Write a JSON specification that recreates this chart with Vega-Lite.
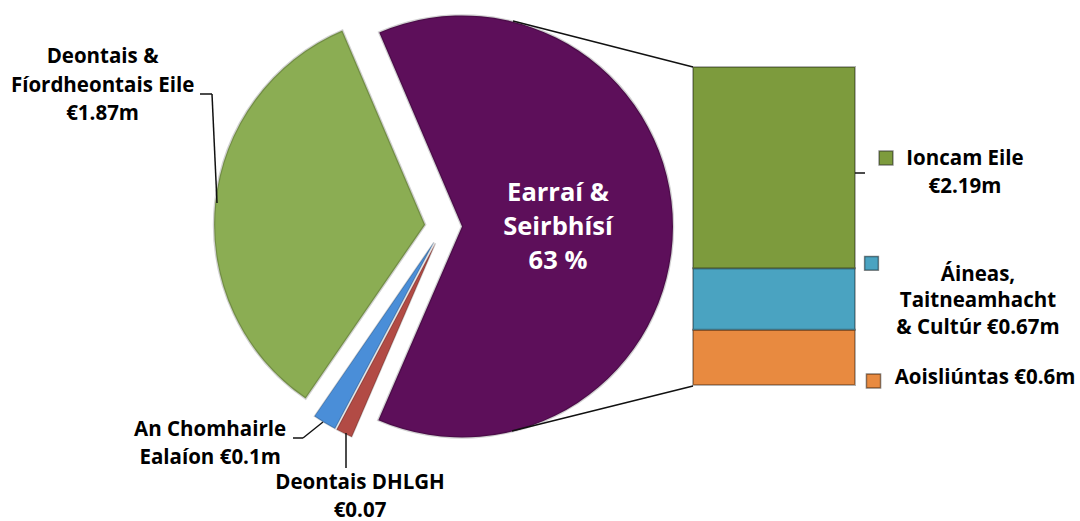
{
  "$schema": "https://vega.github.io/schema/vega-lite/v6.json",
  "width": 887,
  "height": 453,
  "padding": 0,
  "background": "white",
  "config": {
    "view": {"stroke": null},
    "text": {"font": "Open Sans", "fontWeight": "bold", "fontSize": 20.5, "lineHeight": 27.5, "lineBreak": "\n", "align": "center", "baseline": "middle", "color": "#000000"}
  },
  "datasets": {
    "pie": [
      {"name": "Earraí & Seirbhísí", "value": 3.46, "label": "Earraí &\nSeirbhísí\n63 %"},
      {"name": "Deontais DHLGH", "value": 0.07, "label": "Deontais DHLGH\n€0.07"},
      {"name": "An Chomhairle Ealaíon", "value": 0.1, "label": "An Chomhairle\nEalaíon €0.1m"},
      {"name": "Deontais & Fíordheontais Eile", "value": 1.87, "label": "Deontais &\nFíordheontais Eile\n€1.87m"}
    ],
    "bar": [
      {"group": "Earraí & Seirbhísí", "name": "Aoisliúntas", "value": 0.6, "label": "Aoisliúntas €0.6m"},
      {"group": "Earraí & Seirbhísí", "name": "Áineas, Taitneamhacht & Cultúr", "value": 0.67, "label": "Áineas,\nTaitneamhacht\n& Cultúr €0.67m"},
      {"group": "Earraí & Seirbhísí", "name": "Ioncam Eile", "value": 2.19, "label": "Ioncam Eile\n€2.19m"}
    ]
  },
  "layer": [
    {
      "data": {"name": "pie"},
      "transform": [{"stack": "value", "groupby": [], "as": ["s0", "s1"]}],
      "layer": [
        {
          "transform": [{"filter": "datum.name === 'Earraí & Seirbhísí'"}],
          "mark": {"type": "arc", "outerRadius": 211, "xOffset": 18.5, "yOffset": 0, "stroke": "#000000", "strokeOpacity": 0.18, "strokeWidth": 2.5},
          "encoding": {
            "theta": {"field": "s0", "type": "quantitative", "stack": null, "scale": {"domain": [0, 5.5], "range": [-0.4032, 5.88]}},
            "theta2": {"field": "s1"},
            "color": {"field": "name", "type": "nominal", "legend": null, "scale": {"domain": ["Earraí & Seirbhísí", "Deontais DHLGH", "An Chomhairle Ealaíon", "Deontais & Fíordheontais Eile", "Ioncam Eile", "Áineas, Taitneamhacht & Cultúr", "Aoisliúntas"], "range": ["#5d0f5a", "#b24b45", "#4a8ed8", "#8bad53", "#7d9b3d", "#4aa3c1", "#e88a40"]}}
          }
        },
        {
          "transform": [{"filter": "datum.name === 'Deontais DHLGH'"}],
          "mark": {"type": "arc", "outerRadius": 211, "xOffset": -8.0, "yOffset": 16.7, "stroke": "#000000", "strokeOpacity": 0.18, "strokeWidth": 1.5},
          "encoding": {
            "theta": {"field": "s0", "type": "quantitative", "stack": null, "scale": {"domain": [0, 5.5], "range": [-0.4032, 5.88]}},
            "theta2": {"field": "s1"},
            "color": {"field": "name", "type": "nominal", "legend": null, "scale": {"domain": ["Earraí & Seirbhísí", "Deontais DHLGH", "An Chomhairle Ealaíon", "Deontais & Fíordheontais Eile", "Ioncam Eile", "Áineas, Taitneamhacht & Cultúr", "Aoisliúntas"], "range": ["#5d0f5a", "#b24b45", "#4a8ed8", "#8bad53", "#7d9b3d", "#4aa3c1", "#e88a40"]}}
          }
        },
        {
          "transform": [{"filter": "datum.name === 'An Chomhairle Ealaíon'"}],
          "mark": {"type": "arc", "outerRadius": 211, "xOffset": -9.6, "yOffset": 15.8, "stroke": "#000000", "strokeOpacity": 0.18, "strokeWidth": 1.5},
          "encoding": {
            "theta": {"field": "s0", "type": "quantitative", "stack": null, "scale": {"domain": [0, 5.5], "range": [-0.4032, 5.88]}},
            "theta2": {"field": "s1"},
            "color": {"field": "name", "type": "nominal", "legend": null, "scale": {"domain": ["Earraí & Seirbhísí", "Deontais DHLGH", "An Chomhairle Ealaíon", "Deontais & Fíordheontais Eile", "Ioncam Eile", "Áineas, Taitneamhacht & Cultúr", "Aoisliúntas"], "range": ["#5d0f5a", "#b24b45", "#4a8ed8", "#8bad53", "#7d9b3d", "#4aa3c1", "#e88a40"]}}
          }
        },
        {
          "transform": [{"filter": "datum.name === 'Deontais & Fíordheontais Eile'"}],
          "mark": {"type": "arc", "outerRadius": 211, "xOffset": -18.4, "yOffset": -1.8, "stroke": "#000000", "strokeOpacity": 0.18, "strokeWidth": 2.5},
          "encoding": {
            "theta": {"field": "s0", "type": "quantitative", "stack": null, "scale": {"domain": [0, 5.5], "range": [-0.4032, 5.88]}},
            "theta2": {"field": "s1"},
            "color": {"field": "name", "type": "nominal", "legend": null, "scale": {"domain": ["Earraí & Seirbhísí", "Deontais DHLGH", "An Chomhairle Ealaíon", "Deontais & Fíordheontais Eile", "Ioncam Eile", "Áineas, Taitneamhacht & Cultúr", "Aoisliúntas"], "range": ["#5d0f5a", "#b24b45", "#4a8ed8", "#8bad53", "#7d9b3d", "#4aa3c1", "#e88a40"]}}
          }
        },
        {
          "transform": [{"filter": "datum.name === 'Earraí & Seirbhísí'"}],
          "mark": {"type": "text", "theta": 1.575, "radius": 114.5, "dy": -34, "fontSize": 25.5, "lineHeight": 34, "color": "white"},
          "encoding": {"text": {"field": "label"}}
        },
        {
          "transform": [{"filter": "datum.name === 'Deontais & Fíordheontais Eile'"}],
          "mark": {"type": "text", "theta": 5.1036, "radius": 368.8, "dy": -28.5, "lineHeight": 28.5},
          "encoding": {"text": {"field": "label"}}
        },
        {
          "transform": [{"filter": "datum.name === 'An Chomhairle Ealaíon'"}],
          "mark": {"type": "text", "theta": 3.962, "radius": 319.1, "dy": -13.75},
          "encoding": {"text": {"field": "label"}}
        },
        {
          "transform": [{"filter": "datum.name === 'Deontais DHLGH'"}],
          "mark": {"type": "text", "theta": 3.441, "radius": 283.1, "dy": -13.75},
          "encoding": {"text": {"field": "label"}}
        },
        {
          "transform": [{"filter": "datum.name === 'Earraí & Seirbhísí'"}],
          "mark": {"type": "rule", "color": "#111111", "strokeWidth": 1.5},
          "encoding": {"x": {"value": 513}, "y": {"value": 21}, "x2": {"value": 693}, "y2": {"value": 67}}
        },
        {
          "transform": [{"filter": "datum.name === 'Earraí & Seirbhísí'"}],
          "mark": {"type": "rule", "color": "#111111", "strokeWidth": 1.5},
          "encoding": {"x": {"value": 512}, "y": {"value": 431}, "x2": {"value": 693}, "y2": {"value": 386}}
        },
        {
          "transform": [{"filter": "datum.name === 'Deontais & Fíordheontais Eile'"}],
          "mark": {"type": "rule", "color": "#111111", "strokeWidth": 1.5},
          "encoding": {"x": {"value": 200}, "y": {"value": 94}, "x2": {"value": 212}, "y2": {"value": 94}}
        },
        {
          "transform": [{"filter": "datum.name === 'Deontais & Fíordheontais Eile'"}],
          "mark": {"type": "rule", "color": "#111111", "strokeWidth": 1.5},
          "encoding": {"x": {"value": 212}, "y": {"value": 94}, "x2": {"value": 217}, "y2": {"value": 203}}
        },
        {
          "transform": [{"filter": "datum.name === 'An Chomhairle Ealaíon'"}],
          "mark": {"type": "rule", "color": "#111111", "strokeWidth": 1.5},
          "encoding": {"x": {"value": 293}, "y": {"value": 438}, "x2": {"value": 303}, "y2": {"value": 438}}
        },
        {
          "transform": [{"filter": "datum.name === 'An Chomhairle Ealaíon'"}],
          "mark": {"type": "rule", "color": "#111111", "strokeWidth": 1.5},
          "encoding": {"x": {"value": 303}, "y": {"value": 438}, "x2": {"value": 323}, "y2": {"value": 422}}
        },
        {
          "transform": [{"filter": "datum.name === 'Deontais DHLGH'"}],
          "mark": {"type": "rule", "color": "#111111", "strokeWidth": 1.5},
          "encoding": {"x": {"value": 346}, "y": {"value": 433}, "x2": {"value": 346}, "y2": {"value": 468}}
        }
      ]
    },
    {
      "data": {"name": "bar"},
      "transform": [{"stack": "value", "groupby": ["group"], "as": ["b0", "b1"]}],
      "encoding": {
        "x": {"field": "group", "type": "nominal", "axis": null, "scale": {"range": [693, 855], "paddingInner": 0, "paddingOuter": 0}},
        "y": {"field": "b0", "type": "quantitative", "axis": null, "scale": {"domain": [0, 3.46], "range": [385, 67]}}
      },
      "layer": [
        {
          "mark": {"type": "bar", "stroke": "#000000", "strokeOpacity": 0.3, "strokeWidth": 2},
          "encoding": {
            "y2": {"field": "b1"},
            "color": {"field": "name", "type": "nominal", "legend": null, "scale": {"domain": ["Earraí & Seirbhísí", "Deontais DHLGH", "An Chomhairle Ealaíon", "Deontais & Fíordheontais Eile", "Ioncam Eile", "Áineas, Taitneamhacht & Cultúr", "Aoisliúntas"], "range": ["#5d0f5a", "#b24b45", "#4a8ed8", "#8bad53", "#7d9b3d", "#4aa3c1", "#e88a40"]}}
          }
        },
        {
          "transform": [{"filter": "datum.name === 'Ioncam Eile'"}],
          "mark": {"type": "rule", "color": "#111111", "strokeWidth": 1.5},
          "encoding": {"x": {"value": 855}, "y": {"value": 173}, "x2": {"value": 865}, "y2": {"value": 173}}
        },
        {
          "transform": [{"filter": "datum.name === 'Ioncam Eile'"}],
          "mark": {"type": "square", "filled": true, "size": 190, "opacity": 1, "xOffset": 31, "yOffset": 91, "stroke": "#000000", "strokeOpacity": 0.45, "strokeWidth": 1.5},
          "encoding": {
            "x": {"field": "group", "type": "nominal", "bandPosition": 1},
            "y": {"field": "b1", "type": "quantitative"},
            "color": {"field": "name", "type": "nominal", "legend": null, "scale": {"domain": ["Earraí & Seirbhísí", "Deontais DHLGH", "An Chomhairle Ealaíon", "Deontais & Fíordheontais Eile", "Ioncam Eile", "Áineas, Taitneamhacht & Cultúr", "Aoisliúntas"], "range": ["#5d0f5a", "#b24b45", "#4a8ed8", "#8bad53", "#7d9b3d", "#4aa3c1", "#e88a40"]}}
          }
        },
        {
          "transform": [{"filter": "datum.name === 'Áineas, Taitneamhacht & Cultúr'"}],
          "mark": {"type": "square", "filled": true, "size": 190, "opacity": 1, "xOffset": 16.5, "yOffset": -5, "stroke": "#000000", "strokeOpacity": 0.45, "strokeWidth": 1.5},
          "encoding": {
            "x": {"field": "group", "type": "nominal", "bandPosition": 1},
            "y": {"field": "b1", "type": "quantitative"},
            "color": {"field": "name", "type": "nominal", "legend": null, "scale": {"domain": ["Earraí & Seirbhísí", "Deontais DHLGH", "An Chomhairle Ealaíon", "Deontais & Fíordheontais Eile", "Ioncam Eile", "Áineas, Taitneamhacht & Cultúr", "Aoisliúntas"], "range": ["#5d0f5a", "#b24b45", "#4a8ed8", "#8bad53", "#7d9b3d", "#4aa3c1", "#e88a40"]}}
          }
        },
        {
          "transform": [{"filter": "datum.name === 'Aoisliúntas'"}],
          "mark": {"type": "square", "filled": true, "size": 200, "opacity": 1, "xOffset": 18.5, "yOffset": -4, "stroke": "#000000", "strokeOpacity": 0.45, "strokeWidth": 1.5},
          "encoding": {
            "x": {"field": "group", "type": "nominal", "bandPosition": 1},
            "y": {"field": "b0", "type": "quantitative"},
            "color": {"field": "name", "type": "nominal", "legend": null, "scale": {"domain": ["Earraí & Seirbhísí", "Deontais DHLGH", "An Chomhairle Ealaíon", "Deontais & Fíordheontais Eile", "Ioncam Eile", "Áineas, Taitneamhacht & Cultúr", "Aoisliúntas"], "range": ["#5d0f5a", "#b24b45", "#4a8ed8", "#8bad53", "#7d9b3d", "#4aa3c1", "#e88a40"]}}
          }
        },
        {
          "transform": [{"filter": "datum.name === 'Ioncam Eile'"}],
          "mark": {"type": "text", "dx": 110, "dy": 92.25},
          "encoding": {
            "x": {"field": "group", "type": "nominal", "bandPosition": 1},
            "y": {"field": "b1", "type": "quantitative"},
            "text": {"field": "label"}
          }
        },
        {
          "transform": [{"filter": "datum.name === 'Áineas, Taitneamhacht & Cultúr'"}],
          "mark": {"type": "text", "dx": 123, "dy": 6.5, "lineHeight": 26.5},
          "encoding": {
            "x": {"field": "group", "type": "nominal", "bandPosition": 1},
            "y": {"field": "b1", "type": "quantitative"},
            "text": {"field": "label"}
          }
        },
        {
          "transform": [{"filter": "datum.name === 'Aoisliúntas'"}],
          "mark": {"type": "text", "dx": 130, "dy": -7},
          "encoding": {
            "x": {"field": "group", "type": "nominal", "bandPosition": 1},
            "y": {"field": "b0", "type": "quantitative"},
            "text": {"field": "label"}
          }
        }
      ]
    }
  ]
}
